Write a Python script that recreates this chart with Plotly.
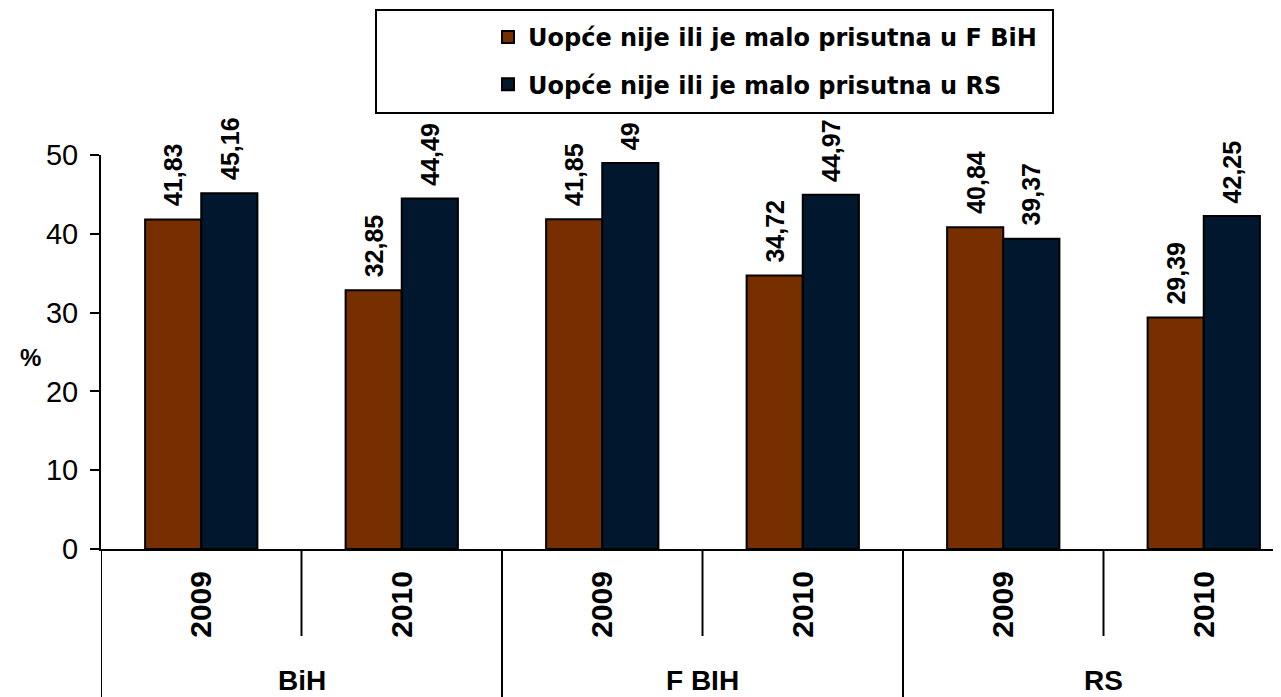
import plotly.graph_objects as go

# ---- data ----
groups = ["BiH", "F BIH", "RS"]
years = ["2009", "2010", "2009", "2010", "2009", "2010"]
fbih_values = [41.83, 32.85, 41.85, 34.72, 40.84, 29.39]
rs_values = [45.16, 44.49, 49, 44.97, 39.37, 42.25]
series_names = ["Uopće nije ili je malo prisutna u F BiH",
                "Uopće nije ili je malo prisutna u RS"]
series_colors = ["#772F00", "#00172E"]
y_ticks = [0, 10, 20, 30, 40, 50]

W, H = 1281, 697
OFF = 8  # page body margin
# screen-space targets
SX_LEFT, SY_TOP, SY_BOT = 101, 155, 549
ML = SX_LEFT - OFF
MT = SY_TOP - OFF
MB = H - (SY_BOT - OFF)
MR = 0
BARGAP = 0.44

pw = W - ML - MR
ph = H - MT - MB
def px(sx):  # screen x -> paper x
    return (sx - OFF - ML) / pw
def py(sy):  # screen y -> paper y
    return (H - MB - (sy - OFF)) / ph

# x range: ~200.5 px per category
cat_px = 200.5
x_max = -0.5 + pw / cat_px

positions = list(range(len(years)))
fig = go.Figure()
for vals, name, col in zip([fbih_values, rs_values], series_names, series_colors):
    fig.add_bar(
        x=positions, y=vals, name="<b>" + name + "</b>",
        legendgroup=name,
        marker=dict(color=col, line=dict(color="black", width=2)),
    )

LBL = "Liberation Sans, Arial, sans-serif"
fig.update_layout(
    width=W, height=H,
    margin=dict(l=ML, r=MR, t=MT, b=MB, pad=0),
    paper_bgcolor="white", plot_bgcolor="white",
    barmode="group", bargap=BARGAP, bargroupgap=0,
    font=dict(family=LBL, color="black"),
    showlegend=True,
    legend=dict(
        x=px(488), y=py(15), xanchor="left", yanchor="top",
        font=dict(family="DejaVu Sans, sans-serif", size=24, color="black"),
        bgcolor="rgba(0,0,0,0)", borderwidth=0,
        tracegroupgap=13, itemsizing="constant",
    ),
    xaxis=dict(
        range=[-0.5, x_max], tickmode="array", tickvals=positions,
        ticktext=["<b>" + y + "</b>" for y in years], tickangle=-90,
        tickfont=dict(size=30, family=LBL), ticks="", ticklabelstandoff=8,
        showline=True, linecolor="black", linewidth=2,
        showgrid=False, zeroline=False,
    ),
    yaxis=dict(
        range=[0, 50], tickmode="array", tickvals=y_ticks,
        ticktext=[str(t) for t in y_ticks],
        tickfont=dict(size=29, family=LBL),
        ticks="outside", ticklen=9, tickwidth=2, tickcolor="black",
        ticklabelstandoff=6,
        showline=True, linecolor="black", linewidth=2,
        showgrid=False, zeroline=False,
    ),
)

# value labels
half = (1 - BARGAP) / 4
for i in positions:
    for vals, off in [(fbih_values, -half), (rs_values, half)]:
        v = vals[i]
        txt = ("%g" % v).replace(".", ",")
        if "," in txt and len(txt.split(",")[1]) == 1:
            txt += "0"
        fig.add_annotation(x=i + off, y=v, xref="x", yref="y", text="<b>" + txt + "</b>",
                           textangle=-90, showarrow=False, xanchor="center", yanchor="bottom",
                           yshift=11, font=dict(size=25, family=LBL, color="black"))

# group labels
for g, name in enumerate(groups):
    fig.add_annotation(x=2 * g + 0.5, y=py(680), xref="x", yref="paper", text="<b>" + name + "</b>",
                       showarrow=False, xanchor="center", yanchor="middle",
                       font=dict(size=28, family=LBL, color="black"))

# dividers
for xb in [-0.5, 1.5, 3.5]:
    fig.add_shape(type="line", x0=xb, x1=xb, xref="x", yref="paper", y0=0, y1=py(H + 20),
                  line=dict(color="black", width=2))
for xb in [0.5, 2.5, 4.5]:
    fig.add_shape(type="line", x0=xb, x1=xb, xref="x", yref="paper", y0=0, y1=py(636),
                  line=dict(color="black", width=2))

# legend box
fig.add_shape(type="rect", xref="paper", yref="paper",
              x0=px(376), x1=px(1053), y0=py(113), y1=py(10),
              line=dict(color="black", width=2), fillcolor="rgba(0,0,0,0)")

# y title
fig.add_annotation(x=px(30), y=py(357), xref="paper", yref="paper", text="<b>%</b>",
                   showarrow=False, xanchor="center", yanchor="middle",
                   font=dict(size=24, family=LBL, color="black"))

fig.write_html("out.html")
